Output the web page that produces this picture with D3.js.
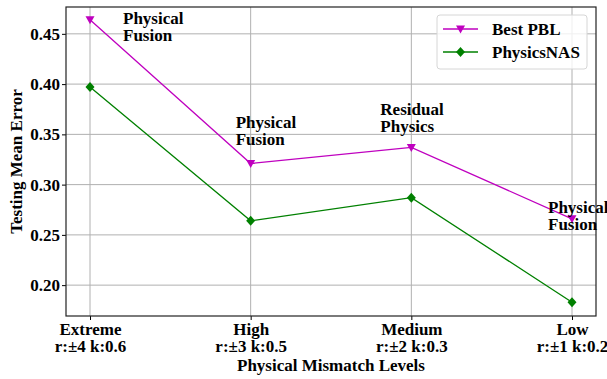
<!DOCTYPE html>
<html>
<head>
<meta charset="utf-8">
<script src="https://cdn.jsdelivr.net/npm/d3@7"></script>
<style>
  body { margin: 0; background: #fff; }
  text { font-family: "Liberation Serif", "Times New Roman", serif; font-weight: bold; fill: #000; }
</style>
</head>
<body>
<div id="chart"></div>
<script>
// data
const levels = ["Extreme", "High", "Medium", "Low"];
const levelParams = ["r:\u00b14 k:0.6", "r:\u00b13 k:0.5", "r:\u00b12 k:0.3", "r:\u00b11 k:0.2"];
const bestPBL = [0.464, 0.321, 0.337, 0.266];
const physicsNAS = [0.397, 0.264, 0.287, 0.183];
const bestLabels = [["Physical", "Fusion"], ["Physical", "Fusion"], ["Residual", "Physics"], ["Physical", "Fusion"]];
const yTicks = [0.20, 0.25, 0.30, 0.35, 0.40, 0.45];

const width = 607, height = 379;
const margin = {top: 7, right: 11, bottom: 63, left: 66};
const fs = "17px";

const svg = d3.select("#chart").append("svg")
    .attr("width", width)
    .attr("height", height);

const x = d3.scalePoint()
    .domain(levels)
    .range([margin.left + 24, width - margin.right - 24]);

const y = d3.scaleLinear()
    .domain([0.1693, 0.4767])
    .range([height - margin.bottom, margin.top]);

// grid
svg.append("g")
  .selectAll("line")
  .data(yTicks)
  .join("line")
    .attr("x1", margin.left).attr("x2", width - margin.right)
    .attr("y1", d => y(d)).attr("y2", d => y(d))
    .attr("stroke", "#b0b0b0").attr("stroke-width", 1);

svg.append("g")
  .selectAll("line")
  .data(levels)
  .join("line")
    .attr("x1", d => x(d)).attr("x2", d => x(d))
    .attr("y1", margin.top).attr("y2", height - margin.bottom)
    .attr("stroke", "#b0b0b0").attr("stroke-width", 1);

// axes
const yAxis = svg.append("g")
    .attr("transform", `translate(${margin.left},0)`)
    .call(d3.axisLeft(y).tickValues(yTicks).tickFormat(d3.format(".2f")).tickSize(4).tickPadding(2));
yAxis.select(".domain").remove();
yAxis.selectAll("text").style("font-size", fs);

const xAxis = svg.append("g")
    .attr("transform", `translate(0,${height - margin.bottom})`)
    .call(d3.axisBottom(x).tickSize(4).tickFormat(""));
xAxis.select(".domain").remove();

xAxis.selectAll(".tick")
  .append("text")
    .attr("y", 19)
    .style("font-size", fs)
    .attr("text-anchor", "middle")
    .text(d => d);
xAxis.selectAll(".tick")
  .append("text")
    .attr("y", 36)
    .style("font-size", fs)
    .attr("text-anchor", "middle")
    .text((d, i) => levelParams[i]);

// frame
svg.append("rect")
    .attr("x", margin.left).attr("y", margin.top)
    .attr("width", width - margin.left - margin.right)
    .attr("height", height - margin.top - margin.bottom)
    .attr("fill", "none").attr("stroke", "#222").attr("stroke-width", 1.2);

// axis labels
svg.append("text")
    .attr("x", (margin.left + width - margin.right) / 2)
    .attr("y", 371)
    .attr("text-anchor", "middle")
    .style("font-size", fs)
    .text("Physical Mismatch Levels");

svg.append("text")
    .attr("transform", `translate(22,${(margin.top + height - margin.bottom) / 2}) rotate(-90)`)
    .attr("text-anchor", "middle")
    .style("font-size", fs)
    .text("Testing Mean Error");

// lines
const line = d3.line()
    .x((d, i) => x(levels[i]))
    .y(d => y(d));

svg.append("path")
    .datum(bestPBL)
    .attr("d", line)
    .attr("fill", "none").attr("stroke", "#bf00bf").attr("stroke-width", 1.3);

svg.append("path")
    .datum(physicsNAS)
    .attr("d", line)
    .attr("fill", "none").attr("stroke", "#008000").attr("stroke-width", 1.3);

const triDown = "M-4.5,-3.5L4.5,-3.5L0,4.5Z";
const diamond = "M0,-5L4.5,0L0,5L-4.5,0Z";

svg.append("g")
  .selectAll("path")
  .data(bestPBL)
  .join("path")
    .attr("d", triDown)
    .attr("transform", (d, i) => `translate(${x(levels[i])},${y(d)})`)
    .attr("fill", "#bf00bf");

svg.append("g")
  .selectAll("path")
  .data(physicsNAS)
  .join("path")
    .attr("d", diamond)
    .attr("transform", (d, i) => `translate(${x(levels[i])},${y(d)})`)
    .attr("fill", "#008000");

// annotations
const annOffsets = [[33, 4], [-15, -36], [-31, -32], [-24, -6]];
const ann = svg.append("g")
  .selectAll("text")
  .data(bestPBL)
  .join("text")
    .attr("x", (d, i) => x(levels[i]) + annOffsets[i][0])
    .attr("y", (d, i) => y(d) + annOffsets[i][1])
    .style("font-size", fs);
ann.selectAll("tspan")
  .data((d, i) => bestLabels[i].map(t => ({t, i})))
  .join("tspan")
    .attr("x", d => x(levels[d.i]) + annOffsets[d.i][0])
    .attr("dy", (d, j) => j === 0 ? 0 : 17)
    .text(d => d.t);

// legend
const legend = svg.append("g").attr("transform", "translate(437,15)");
legend.append("rect")
    .attr("width", 150).attr("height", 54).attr("rx", 3)
    .attr("fill", "#fff").attr("fill-opacity", 0.8)
    .attr("stroke", "#d6d6d6");
const legendItems = [
  {name: "Best PBL", color: "#bf00bf", shape: triDown},
  {name: "PhysicsNAS", color: "#008000", shape: diamond}
];
const li = legend.selectAll("g.item")
  .data(legendItems)
  .join("g")
    .attr("class", "item")
    .attr("transform", (d, i) => `translate(0,${14 + i * 23})`);
li.append("line")
    .attr("x1", 6).attr("x2", 41)
    .attr("stroke", d => d.color).attr("stroke-width", 1.3);
li.append("path")
    .attr("d", d => d.shape)
    .attr("transform", "translate(23.5,0)")
    .attr("fill", d => d.color);
li.append("text")
    .attr("x", 55).attr("y", 6)
    .style("font-size", fs)
    .text(d => d.name);
</script>
</body>
</html>
